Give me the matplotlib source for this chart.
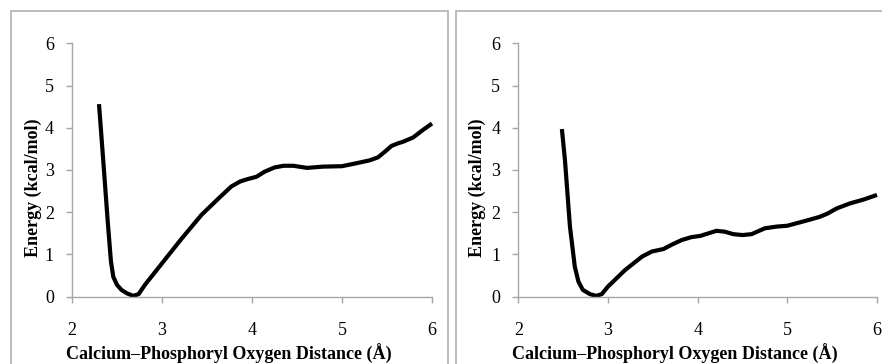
import matplotlib
matplotlib.use("Agg")
from matplotlib import pyplot as plt
from matplotlib.patches import Rectangle

plt.rcParams['font.family'] = ['Liberation Serif', 'DejaVu Serif']

# left panel: energy profile
dist_a = [2.30, 2.348, 2.397, 2.433, 2.459, 2.50, 2.55, 2.61, 2.68, 2.74, 2.81, 3.0,
          3.22, 3.44, 3.63, 3.77, 3.87, 3.96, 4.05, 4.14, 4.25, 4.35, 4.46, 4.61,
          4.79, 5.0, 5.16, 5.31, 5.40, 5.48, 5.55, 5.62, 5.68, 5.79, 5.90, 6.0]
energy_a = [4.56, 3.20, 1.78, 0.83, 0.47, 0.28, 0.16, 0.08, 0.02, 0.06, 0.28, 0.79,
            1.38, 1.94, 2.33, 2.61, 2.73, 2.79, 2.84, 2.96, 3.06, 3.10, 3.10, 3.05,
            3.08, 3.09, 3.16, 3.23, 3.30, 3.44, 3.57, 3.63, 3.67, 3.77, 3.95, 4.10]

# right panel
dist_b = [2.486, 2.52, 2.576, 2.63, 2.67, 2.72, 2.80, 2.87, 2.93, 3.0, 3.19, 3.38,
          3.49, 3.62, 3.71, 3.82, 3.93, 4.03, 4.12, 4.21, 4.30, 4.40, 4.50, 4.60,
          4.75, 4.88, 5.0, 5.21, 5.36, 5.45, 5.55, 5.70, 5.85, 6.0]
energy_b = [3.97, 3.24, 1.66, 0.71, 0.36, 0.16, 0.06, 0.02, 0.06, 0.24, 0.63, 0.95,
            1.07, 1.13, 1.23, 1.34, 1.41, 1.44, 1.50, 1.56, 1.54, 1.48, 1.46, 1.48,
            1.62, 1.66, 1.68, 1.80, 1.89, 1.97, 2.09, 2.21, 2.30, 2.41]

xticks = [2, 3, 4, 5, 6]
yticks = [0, 1, 2, 3, 4, 5, 6]
xlabel = "Calcium\u2013Phosphoryl Oxygen Distance (\u00c5)"
ylabel = "Energy (kcal/mol)"

W, H = 882, 364
fig = plt.figure(figsize=(W / 100, H / 100), dpi=100)
gray = '#a6a6a6'

# panel frames
fig.add_artist(Rectangle((10.5 / W, -0.1), (448.5 - 10.5) / W, 1.1 - 11 / H,
                         transform=fig.transFigure, fill=False, ec='#b0b0b0', lw=1.2))
fig.add_artist(Rectangle((456 / W, -0.1), 1.0, 1.1 - 11 / H,
                         transform=fig.transFigure, fill=False, ec='#b0b0b0', lw=1.2))


def panel(left_px, right_px, x, y, ylab_px):
    ax = fig.add_axes([left_px / W, (H - 296.7) / H,
                       (right_px - left_px) / W, (296.7 - 43.3) / H])
    ax.plot(x, y, color='black', lw=3.0, solid_joinstyle='round', solid_capstyle='butt',
            clip_on=False)
    ax.set_xlim(2, 6)
    ax.set_ylim(0, 6)
    ax.set_xticks(xticks)
    ax.set_yticks(yticks)
    ax.spines['top'].set_visible(False)
    ax.spines['right'].set_visible(False)
    for s in ['left', 'bottom']:
        ax.spines[s].set_color(gray)
        ax.spines[s].set_linewidth(1.0)
    ax.tick_params(axis='both', color=gray, width=1.0, length=4, labelsize=13,
                   direction='out')
    ax.tick_params(axis='y', pad=9)
    ax.tick_params(axis='x', pad=14)
    ax.set_xlabel(xlabel, fontsize=13, fontweight='bold')
    ax.xaxis.set_label_coords(0.436, -0.185)
    ax.set_ylabel(ylabel, fontsize=13, fontweight='bold')
    ax.yaxis.set_label_coords((ylab_px - left_px) / (right_px - left_px), 0.429)
    return ax


panel(72, 432, dist_a, energy_a, 42)
panel(518.3, 877, dist_b, energy_b, 486)

plt.savefig('out.png', dpi=100)
